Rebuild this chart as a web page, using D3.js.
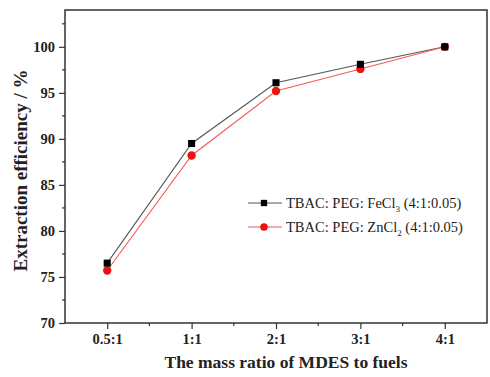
<!DOCTYPE html>
<html>
<head>
<meta charset="utf-8">
<script src="https://cdn.jsdelivr.net/npm/d3@7"></script>
<style>
  body { margin: 0; background: #fff; }
  text { font-family: "Liberation Serif", "DejaVu Serif", serif; }
</style>
</head>
<body>
<div id="chart"></div>
<script>
const categories = ["0.5:1", "1:1", "2:1", "3:1", "4:1"];
const feValues = [76.5, 89.5, 96.1, 98.1, 100];
const znValues = [75.7, 88.2, 95.2, 97.6, 100];
const yTicks = [70, 75, 80, 85, 90, 95, 100];

const margin = {top: 10, right: 3, bottom: 54, left: 65},
  width = 490 - margin.left - margin.right,
  height = 377 - margin.top - margin.bottom;

const svg = d3.select("#chart")
  .append("svg")
  .attr("width", 490)
  .attr("height", 377)
  .append("g")
  .attr("transform", `translate(${margin.left},${margin.top})`);

const x = d3.scalePoint()
  .domain(categories)
  .range([0, width])
  .padding(0.5);

const y = d3.scaleLinear()
  .domain([70, 104])
  .range([height, 0]);

// frame
svg.append("rect")
  .attr("width", width)
  .attr("height", height)
  .attr("fill", "none")
  .attr("stroke", "#333")
  .attr("stroke-width", 1.5);

// minor ticks
const step = x.step();
const minorX = categories.slice(0, -1).map(c => x(c) + step / 2);
svg.selectAll(".xminor")
  .data(minorX)
  .join("line")
  .attr("x1", d => d).attr("x2", d => d)
  .attr("y1", height).attr("y2", height + 3)
  .attr("stroke", "#333").attr("stroke-width", 1.2);

const minorY = yTicks.map(t => t + 2.5);
svg.selectAll(".yminor")
  .data(minorY)
  .join("line")
  .attr("x1", 0).attr("x2", -3)
  .attr("y1", d => y(d)).attr("y2", d => y(d))
  .attr("stroke", "#333").attr("stroke-width", 1.2);

// axes
const xAxis = svg.append("g")
  .attr("transform", `translate(0,${height})`)
  .call(d3.axisBottom(x).tickSize(6).tickPadding(5));
const yAxis = svg.append("g")
  .call(d3.axisLeft(y).tickValues(yTicks).tickSize(6).tickPadding(4));

[xAxis, yAxis].forEach(a => {
  a.select(".domain").remove();
  a.selectAll(".tick line").attr("stroke", "#333").attr("stroke-width", 1.2);
  a.selectAll(".tick text")
    .attr("fill", "#222")
    .attr("font-size", "14.5px")
    .attr("font-weight", "bold")
    .attr("font-family", "Liberation Serif, serif");
});

svg.append("text")
  .attr("x", width / 2 + 10)
  .attr("y", height + 45)
  .attr("text-anchor", "middle")
  .attr("font-size", "17.5px")
  .attr("font-weight", "bold")
  .attr("fill", "#222")
  .text("The mass ratio of MDES to fuels");

svg.append("text")
  .attr("transform", "rotate(-90)")
  .attr("x", -height / 2 - 4)
  .attr("y", -38)
  .attr("text-anchor", "middle")
  .attr("font-size", "18px")
  .attr("font-weight", "bold")
  .attr("fill", "#222")
  .attr("textLength", 202)
  .attr("lengthAdjust", "spacingAndGlyphs")
  .text("Extraction efficiency / %");

const series = [
  {name: "FeCl", sub: "3", values: feValues, line: "#555", fill: "#000", shape: "square"},
  {name: "ZnCl", sub: "2", values: znValues, line: "#f35b5b", fill: "#f01010", shape: "circle"}
];

const line = d3.line()
  .x((d, i) => x(categories[i]))
  .y(d => y(d));

series.forEach(s => {
  svg.append("path")
    .datum(s.values)
    .attr("fill", "none")
    .attr("stroke", s.line)
    .attr("stroke-width", 1.1)
    .attr("d", line);
});

series.slice().reverse().forEach(s => {
  svg.append("g").selectAll("path")
    .data(s.values)
    .join("path")
    .attr("transform", (d, i) => `translate(${x(categories[i])},${y(d)})`)
    .attr("fill", s.fill)
    .attr("d", d3.symbol().type(s.shape === "square" ? d3.symbolSquare : d3.symbolCircle).size(s.shape === "square" ? 50 : 55));
});

// legend
const legend = svg.append("g").attr("transform", "translate(183,193)");
series.forEach((s, i) => {
  const g = legend.append("g").attr("transform", `translate(0,${i * 24})`);
  g.append("line")
    .attr("x1", 0).attr("x2", 34)
    .attr("stroke", s.line).attr("stroke-width", 1.1);
  g.append("path")
    .attr("transform", "translate(16,0)")
    .attr("fill", s.fill)
    .attr("d", d3.symbol().type(s.shape === "square" ? d3.symbolSquare : d3.symbolCircle).size(s.shape === "square" ? 40 : 45));
  const t = g.append("text")
    .attr("x", 38)
    .attr("y", 5)
    .attr("font-size", "14.5px")
    .attr("fill", "#222");
  t.append("tspan").text("TBAC: PEG: " + s.name);
  t.append("tspan").attr("font-size", "9px").attr("dy", 4).text(s.sub);
  t.append("tspan").attr("dy", -4).text(" (4:1:0.05)");
});
</script>
</body>
</html>
